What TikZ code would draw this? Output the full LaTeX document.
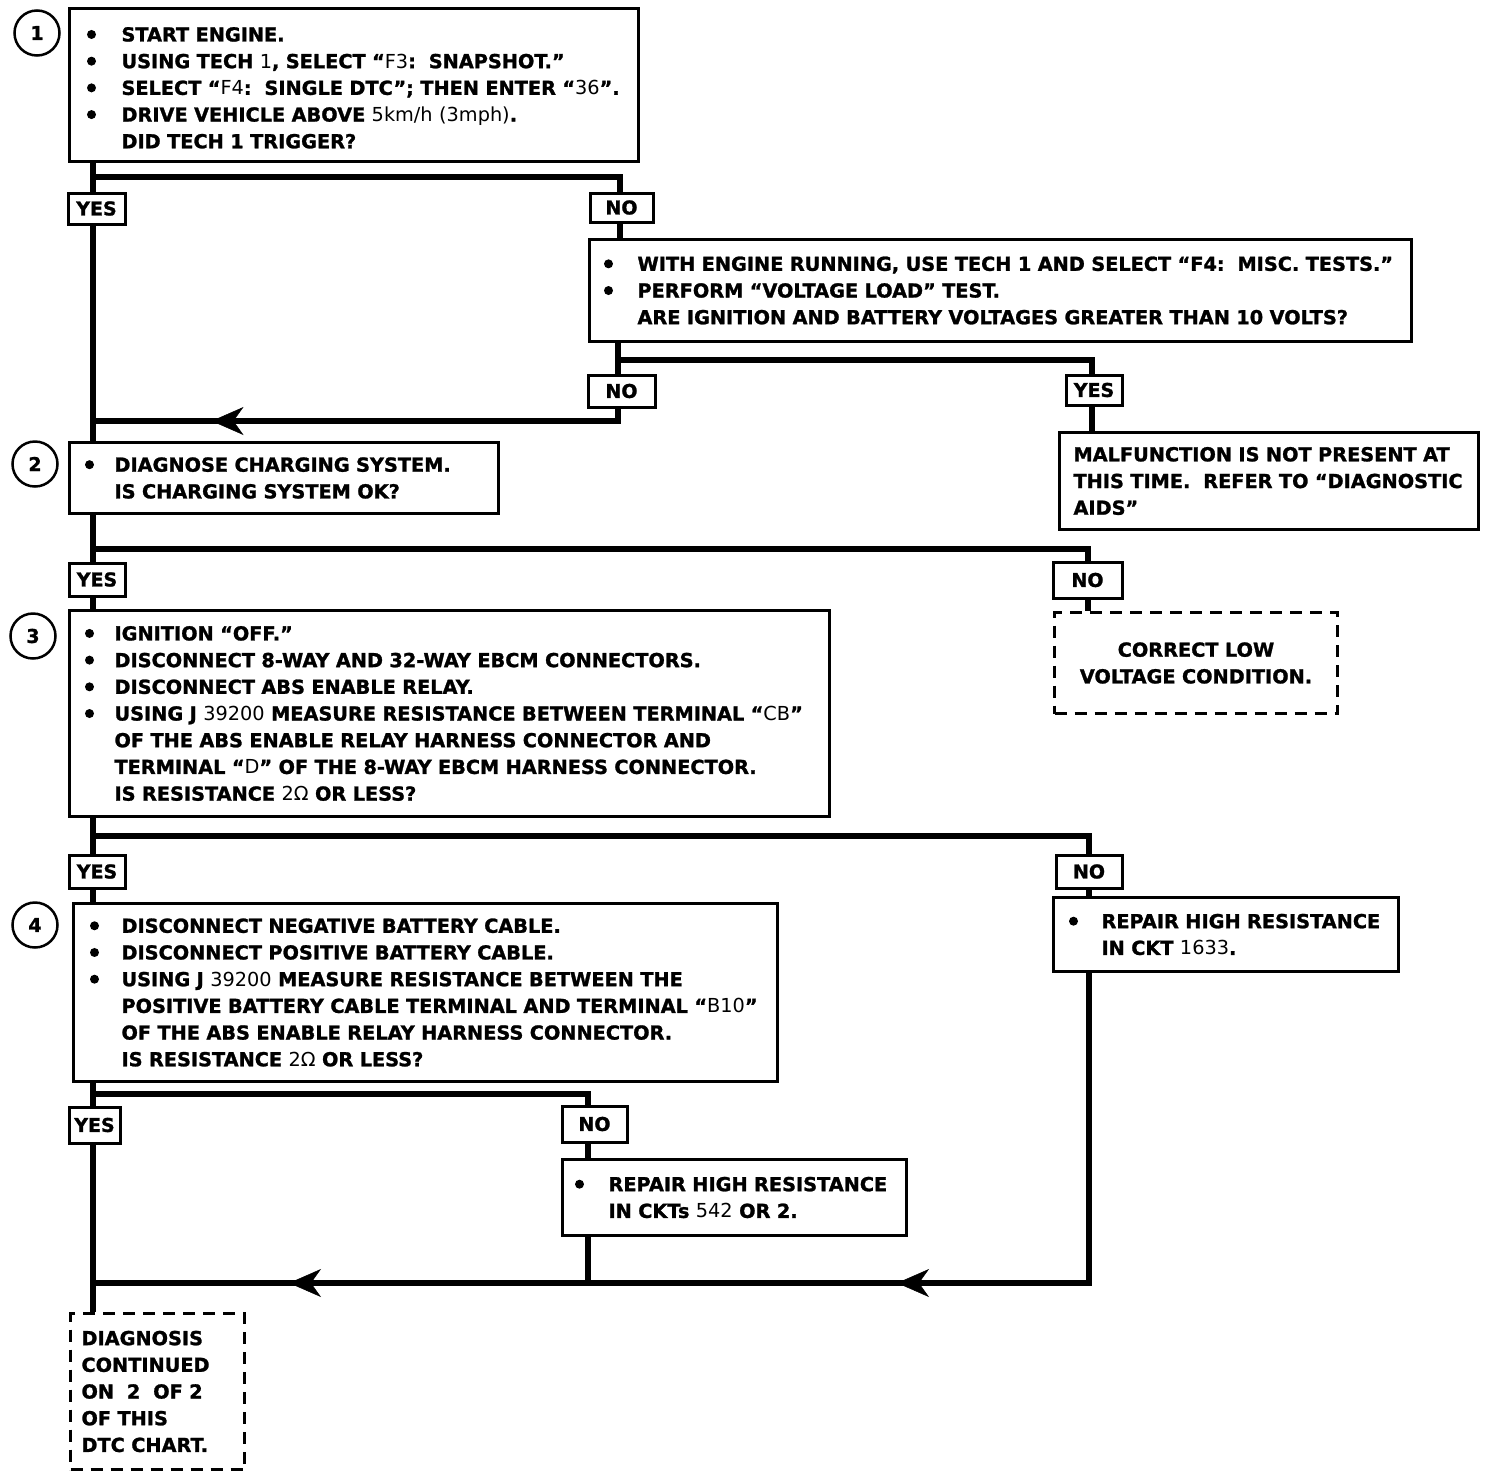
\documentclass[tikz,border=0pt]{standalone}
\usepackage{fontspec}
\setmainfont{DejaVu Sans}[BoldFeatures={FakeBold=1.3}]
\usetikzlibrary{arrows.meta,decorations.markings}
\newcommand\dotb{\tikz[baseline=0pt]\fill (4.5pt,7pt) circle[radius=4.5pt];}
\newcommand\bl[2]{\hspace*{\dimexpr#1pt-4.5pt\relax}\dotb\hspace*{\dimexpr#2pt-#1pt-4.5pt\relax}}
\newcommand\ct[1]{\hspace*{#1pt}}
\newcommand\md[1]{{\mdseries #1}}
\tikzset{
  box/.style n args={2}{draw, line width=3pt, fill=white, anchor=north west, inner sep=0pt,
    align=left, text width=#1pt, minimum height=#2pt, font=\fontsize{19.3}{26.7}\selectfont\bfseries},
  dbox/.style n args={2}{box={#1}{#2}, dash pattern=on 12pt off 8pt},
  lab/.style n args={2}{draw, line width=3pt, fill=white, inner sep=0pt, minimum width=#1pt,
    minimum height=#2pt, font=\fontsize{19}{20}\selectfont\bfseries},
  num/.style={circle, draw, line width=2.5pt, minimum size=45pt, inner sep=0pt,
    font=\fontsize{19}{20}\selectfont\bfseries},
  conn/.style={line width=6pt, line join=miter},
}
\def\tipA{\arrow{Stealth[length=32pt,width=28pt,inset=10pt,line width=0.5pt]}}
\begin{document}
\begin{tikzpicture}[x=1pt,y=-1pt]
\path[fill=white,use as bounding box] (0,0) rectangle (1504,1476);

% step numbers
\node[num] (c1) at (37,33) {1};
\node[num] (c2) at (35,464) {2};
\node[num] (c3) at (33,636) {3};
\node[num] (c4) at (35,925) {4};

% boxes
\node[box={569}{153}] (b1) at (68,7) {%
\rule{0pt}{20pt}\bl{22}{52}START ENGINE.\\
\bl{22}{52}USING TECH \md{1}, SELECT “\md{F3}:\ \ SNAPSHOT.”\\
\bl{22}{52}SELECT “\md{F4}:\ \ SINGLE DTC”; THEN ENTER “\md{36}”.\\
\bl{22}{52}DRIVE VEHICLE ABOVE \md{5km/h (3mph)}.\\
\ct{52}DID TECH 1 TRIGGER?};

\node[box={822}{102}] (b5) at (588,238) {%
\bl{19}{48}WITH ENGINE RUNNING, USE TECH 1 AND SELECT “F4:\ \ MISC. TESTS.”\\
\bl{19}{48}PERFORM “VOLTAGE LOAD” TEST.\\
\ct{48}ARE IGNITION AND BATTERY VOLTAGES GREATER THAN 10 VOLTS?};

\node[box={419}{97}] (b6) at (1058,431) {%
\ct{14}MALFUNCTION IS NOT PRESENT AT\\
\ct{14}THIS TIME.\ \ REFER TO “DIAGNOSTIC\\
\ct{14}AIDS”};

\node[box={429}{71}] (b2) at (68,441) {%
\bl{20}{45}DIAGNOSE CHARGING SYSTEM.\\
\ct{45}IS CHARGING SYSTEM OK?};

\node[dbox={283}{101}, align=center] (d1) at (1053,611) {%
CORRECT LOW\\
VOLTAGE CONDITION.};

\node[box={760}{206}] (b3) at (68,609) {%
\bl{20}{45}IGNITION “OFF.”\\
\bl{20}{45}DISCONNECT 8-WAY AND 32-WAY EBCM CONNECTORS.\\
\bl{20}{45}DISCONNECT ABS ENABLE RELAY.\\
\bl{20}{45}USING J \md{39200} MEASURE RESISTANCE BETWEEN TERMINAL “\md{CB}”\\
\ct{45}OF THE ABS ENABLE RELAY HARNESS CONNECTOR AND\\
\ct{45}TERMINAL “\md{D}” OF THE 8-WAY EBCM HARNESS CONNECTOR.\\
\ct{45}IS RESISTANCE \md{2Ω} OR LESS?};

\node[box={345}{74}] (b7) at (1052,896) {%
\bl{20}{48}REPAIR HIGH RESISTANCE\\
\ct{48}IN CKT \md{1633}.};

\node[box={704}{178}] (b4) at (72,902) {%
\bl{21}{48}DISCONNECT NEGATIVE BATTERY CABLE.\\
\bl{21}{48}DISCONNECT POSITIVE BATTERY CABLE.\\
\bl{21}{48}USING J \md{39200} MEASURE RESISTANCE BETWEEN THE\\
\ct{48}POSITIVE BATTERY CABLE TERMINAL AND TERMINAL “\md{B10}”\\
\ct{48}OF THE ABS ENABLE RELAY HARNESS CONNECTOR.\\
\ct{48}IS RESISTANCE \md{2Ω} OR LESS?};

\node[box={344}{76}] (b8) at (561,1158) {%
\bl{17}{46}REPAIR HIGH RESISTANCE\\
\ct{46}IN CKTs \md{542} OR 2.};

\node[dbox={174}{156}] (d2) at (69,1312) {%
\ct{11}DIAGNOSIS\\
\ct{11}CONTINUED\\
\ct{11}ON\ \ 2\ \ OF 2\\
\ct{11}OF THIS\\
\ct{11}DTC CHART.};

% YES / NO labels
\node[lab={57}{31}] (yes1) at (96.5,208.5) {YES};
\node[lab={63}{29}] (no1) at (621.5,207.5) {NO};
\node[lab={67}{32}] (no2) at (621.5,391) {NO};
\node[lab={56}{30}] (yes2) at (1094,390) {YES};
\node[lab={56}{33}] (yes3) at (97,579.5) {YES};
\node[lab={69}{36}] (no3) at (1087.5,580) {NO};
\node[lab={56}{33}] (yes4) at (97,871.5) {YES};
\node[lab={66}{33}] (no4) at (1089,871.5) {NO};
\node[lab={51}{36}] (yes5) at (94.5,1125) {YES};
\node[lab={65}{36}] (no5) at (594.5,1124) {NO};

% junction coordinates
\coordinate (colL) at (93,0);
\coordinate (j1) at (93,177);
\coordinate (colN1) at (620,0);
\coordinate (colN2) at (618,0);
\coordinate (j2) at (618,360);
\coordinate (colY2) at (1092,0);
\coordinate (j3) at (93,421);
\coordinate (j4) at (93,549);
\coordinate (colN3) at (1088,0);
\coordinate (j5) at (93,836);
\coordinate (colN4) at (1089,0);
\coordinate (j6) at (93,1094);
\coordinate (colN5) at (588,0);
\coordinate (j7) at (93,1283);
\coordinate (j8) at (588,1283);

% main YES column
\draw[conn] (b1.south -| colL) -- (yes1.north -| colL);
\draw[conn] (yes1.south -| colL) -- (b2.north -| colL);
\draw[conn] (b2.south -| colL) -- (yes3.north -| colL);
\draw[conn] (yes3.south -| colL) -- (b3.north -| colL);
\draw[conn] (b3.south -| colL) -- (yes4.north -| colL);
\draw[conn] (yes4.south -| colL) -- (b4.north -| colL);
\draw[conn] (b4.south -| colL) -- (yes5.north -| colL);
\draw[conn] (yes5.south -| colL) -- (d2.north -| colL);

% branches
\draw[conn] (j1) -| (no1.north -| colN1);
\draw[conn] (no1.south -| colN1) -- (b5.north -| colN1);
\draw[conn] (b5.south -| colN2) -- (no2.north -| colN2);
\draw[conn] (j2) -| (yes2.north -| colY2);
\draw[conn] (yes2.south -| colY2) -- (b6.north -| colY2);
\draw[conn, decoration={markings, mark=at position 419pt with {\tipA}}, postaction={decorate}]
  (no2.south -| colN2) |- (j3);
\draw[conn] (j4) -| (no3.north -| colN3);
\draw[conn] (no3.south -| colN3) -- (d1.north -| colN3);
\draw[conn] (j5) -| (no4.north -| colN4);
\draw[conn] (no4.south -| colN4) -- (b7.north -| colN4);
\draw[conn, decoration={markings, mark=at position 502pt with {\tipA}, mark=at position 1110pt with {\tipA}}, postaction={decorate}]
  (b7.south -| colN4) |- (j7);
\draw[conn] (j6) -| (no5.north -| colN5);
\draw[conn] (no5.south -| colN5) -- (b8.north -| colN5);
\draw[conn] (b8.south -| colN5) -- (j8);
\end{tikzpicture}
\end{document}
